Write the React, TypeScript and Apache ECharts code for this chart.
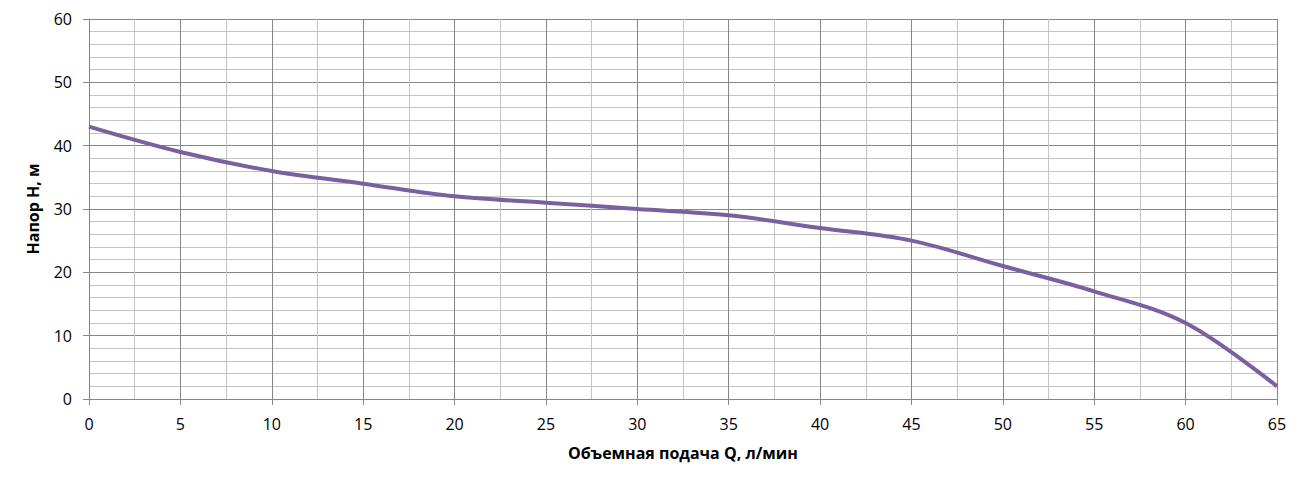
import * as React from "react";
import * as echarts from "echarts";

const flow = [0, 5, 10, 15, 20, 25, 30, 35, 40, 45, 50, 55, 60, 65];
const head = [43, 39, 36, 34, 32, 31, 30, 29, 27, 25, 21, 17, 12, 2];

const xTitle = "Объемная подача Q, л/мин";
const yTitle = "Напор H, м";

const FONT = "'Open Sans', 'Noto Sans', sans-serif";

export default function App() {
  const ref = React.useRef<HTMLDivElement | null>(null);

  React.useEffect(() => {
    if (!ref.current) return;
    const chart = echarts.init(ref.current, undefined, { renderer: "svg" });
    chart.setOption({
      animation: false,
      backgroundColor: "#fff",
      textStyle: { fontFamily: FONT },
      // the div sits inside the body's 8px margin
      grid: { left: 81, right: 29, top: 11, bottom: 76 },
      xAxis: {
        type: "value",
        min: 0,
        max: 65,
        interval: 5,
        name: xTitle,
        nameLocation: "middle",
        nameGap: 46,
        nameTextStyle: { fontSize: 16, fontWeight: "bold", color: "#000", fontFamily: FONT },
        axisLine: { show: true, lineStyle: { color: "#868686", width: 1 } },
        axisTick: { show: true, length: 6, lineStyle: { color: "#868686" } },
        axisLabel: { fontSize: 16, color: "#000", margin: 17, fontFamily: FONT },
        splitLine: { show: true, lineStyle: { color: "#868686", width: 1 } },
        minorTick: { show: false, splitNumber: 2 },
        minorSplitLine: { show: true, lineStyle: { color: "#c4c4c4", width: 1 } },
      },
      yAxis: {
        type: "value",
        min: 0,
        max: 60,
        interval: 10,
        name: yTitle,
        nameLocation: "middle",
        nameGap: 48,
        nameRotate: 90,
        nameTextStyle: { fontSize: 16, fontWeight: "bold", color: "#000", fontFamily: FONT },
        axisLine: { show: true, lineStyle: { color: "#868686", width: 1 } },
        axisTick: { show: true, length: 6, lineStyle: { color: "#868686" } },
        axisLabel: { fontSize: 16, color: "#000", margin: 17, fontFamily: FONT },
        splitLine: { show: true, lineStyle: { color: "#868686", width: 1 } },
        minorTick: { show: false, splitNumber: 5 },
        minorSplitLine: { show: true, lineStyle: { color: "#c4c4c4", width: 1 } },
      },
      series: [
        {
          type: "line",
          data: flow.map((q, i) => [q, head[i]]),
          smooth: 0.35,
          showSymbol: false,
          lineStyle: { color: "#7b5fa0", width: 4 },
          z: 5,
        },
      ],
    });
    return () => chart.dispose();
  }, []);

  return <div ref={ref} style={{ width: 1298, height: 467 }} />;
}
